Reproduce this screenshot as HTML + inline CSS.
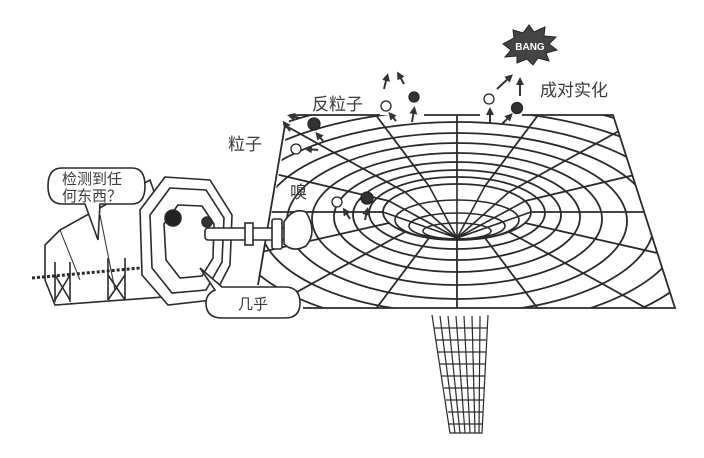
<!DOCTYPE html>
<html><head><meta charset="utf-8"><style>
html,body{margin:0;padding:0;background:#fff;}
svg{display:block}
text{font-family:"Liberation Sans","Noto Sans CJK SC",sans-serif;fill:#3a3a3a}
</style></head><body>
<svg width="704" height="458" viewBox="0 0 704 458" xmlns="http://www.w3.org/2000/svg">
<defs>
<clipPath id="sheet"><polygon points="290,115 613,115 675,308 303,308 258,285"/></clipPath>
<clipPath id="hole"><ellipse cx="457" cy="212" rx="74" ry="28"/></clipPath>
<marker id="ah" markerWidth="4" markerHeight="4" refX="2" refY="2" orient="auto"><path d="M0,0 L4,2 L0,4 z" fill="#333"/></marker>
</defs>
<g stroke="#2a2a2a" fill="none" stroke-width="1.8">
<g clip-path="url(#sheet)">
<ellipse cx="457" cy="213" rx="88" ry="36"/>
<ellipse cx="457" cy="215" rx="104" ry="45"/>
<ellipse cx="457" cy="217" rx="123" ry="55"/>
<ellipse cx="457" cy="219" rx="145" ry="66"/>
<ellipse cx="457" cy="221" rx="170" ry="78"/>
<ellipse cx="457" cy="223" rx="197" ry="90"/>
<ellipse cx="457" cy="225" rx="226" ry="103"/>
<ellipse cx="457" cy="227" rx="257" ry="117"/>
<ellipse cx="457" cy="229" rx="290" ry="132"/>
<line x1="531" y1="212" x2="900" y2="212"/>
<line x1="525" y1="223" x2="895" y2="307"/>
<line x1="509" y1="232" x2="790" y2="388"/>
<line x1="485" y1="238" x2="640" y2="445"/>
<line x1="457" y1="240" x2="457" y2="450"/>
<line x1="429" y1="238" x2="274" y2="445"/>
<line x1="405" y1="232" x2="124" y2="388"/>
<line x1="389" y1="223" x2="19" y2="307"/>
<line x1="383" y1="212" x2="14" y2="212"/>
<line x1="525" y1="201" x2="895" y2="113"/>
<line x1="509" y1="192" x2="790" y2="36"/>
<line x1="485" y1="186" x2="640" y2="-21"/>
<line x1="457" y1="184" x2="457" y2="-30"/>
<line x1="429" y1="186" x2="274" y2="-21"/>
<line x1="405" y1="192" x2="124" y2="36"/>
<line x1="389" y1="201" x2="19" y2="113"/>
</g>
<g clip-path="url(#hole)" stroke-width="1.6">
<ellipse cx="457" cy="220" rx="62" ry="20"/>
<ellipse cx="457" cy="226" rx="48" ry="13"/>
<ellipse cx="457" cy="231" rx="34" ry="8"/>
<line x1="457" y1="238" x2="457" y2="184"/>
<line x1="457" y1="238" x2="429" y2="186"/>
<line x1="457" y1="238" x2="485" y2="186"/>
<line x1="457" y1="238" x2="405" y2="192"/>
<line x1="457" y1="238" x2="509" y2="192"/>
<line x1="457" y1="238" x2="389" y2="201"/>
<line x1="457" y1="238" x2="525" y2="201"/>
<line x1="457" y1="238" x2="383" y2="212"/>
<line x1="457" y1="238" x2="531" y2="212"/>
</g>
<ellipse cx="457" cy="212" rx="74" ry="28"/>
<polyline points="290,115 380,115"/>
<polyline points="424,115 480,115"/>
<polyline points="522,115 613,115 675,308 303,308"/>
<polyline points="285,125 258,285"/>
<g stroke-width="1.2">
<path d="M432,315 L450,433 L482,433 L488,315"/>
<line x1="440" y1="316" x2="455" y2="433"/><line x1="448" y1="316" x2="460" y2="433"/>
<line x1="456" y1="316" x2="465" y2="433"/><line x1="464" y1="316" x2="470" y2="433"/>
<line x1="472" y1="316" x2="475" y2="433"/><line x1="480" y1="316" x2="479" y2="433"/>
<line x1="434" y1="328" x2="487" y2="328"/><line x1="436" y1="340" x2="486" y2="340"/>
<line x1="438" y1="352" x2="486" y2="352"/><line x1="440" y1="364" x2="485" y2="364"/>
<line x1="442" y1="376" x2="485" y2="376"/><line x1="444" y1="388" x2="484" y2="388"/>
<line x1="446" y1="400" x2="484" y2="400"/><line x1="448" y1="412" x2="483" y2="412"/>
<line x1="449" y1="424" x2="483" y2="424"/>
</g>
</g>
<g stroke="#222" stroke-width="1.3">
<circle cx="314" cy="124" r="6" fill="#333"/>
<circle cx="296" cy="149" r="5" fill="#fff"/>
<circle cx="386" cy="106" r="5" fill="#fff"/>
<circle cx="414" cy="97" r="5" fill="#333"/>
<circle cx="489" cy="99" r="5" fill="#fff"/>
<circle cx="517" cy="108" r="5.5" fill="#333"/>
<circle cx="337" cy="202" r="5" fill="#fff"/>
<circle cx="367" cy="198" r="6" fill="#333"/>
</g>
<g stroke="#333" stroke-width="2" marker-end="url(#ah)">
<line x1="323" y1="141" x2="318" y2="135"/><line x1="318" y1="150" x2="308" y2="149"/>
<line x1="300" y1="118" x2="291" y2="116"/><line x1="290" y1="131" x2="285" y2="124"/>
<line x1="396" y1="121" x2="391" y2="115"/><line x1="412" y1="122" x2="414" y2="110"/>
<line x1="384" y1="89" x2="387" y2="77"/><line x1="404" y1="84" x2="399" y2="75"/>
<line x1="490" y1="124" x2="490" y2="111"/><line x1="502" y1="124" x2="510" y2="116"/>
<line x1="497" y1="89" x2="510" y2="77"/><line x1="520" y1="96" x2="520" y2="81"/>
<line x1="350" y1="219" x2="345" y2="211"/><line x1="365" y1="220" x2="367" y2="211"/>
</g>
<polygon points="503,44 514,38 513,30 523,33 529,25 534,32 545,27 544,36 556,37 549,44 557,50 546,53 549,61 538,58 533,65 527,59 517,63 517,56 505,57 511,50" fill="#444" stroke="#222"/>
<text x="530" y="50" font-size="10" font-weight="bold" text-anchor="middle" style="fill:#fff">BANG</text>
<text x="312" y="110" font-size="17">反粒子</text>
<text x="228" y="150" font-size="17">粒子</text>
<text x="290" y="198" font-size="17">嗅</text>
<text x="540" y="96" font-size="17">成对实化</text>
<g stroke="#2a2a2a" stroke-width="1.6" fill="#fff">
<path d="M45,245 L60,230 L150,180 L190,295 L55,305 L45,280 z"/>
<polygon points="165,177 210,180 232,215 230,265 212,300 168,305 142,275 140,210"/>
<polygon points="170,188 206,190 224,218 222,262 206,290 172,293 152,268 150,215"/>
<polygon points="178,205 202,206 214,224 213,258 202,276 180,278 166,260 164,224"/>
<circle cx="173" cy="218" r="8" fill="#222"/>
<circle cx="207" cy="222" r="5" fill="#333"/>
<rect x="205" y="228" width="85" height="12" rx="3"/>
<rect x="245" y="223" width="8" height="22"/>
<rect x="272" y="219" width="10" height="30" rx="2"/>
<path d="M284,222 Q293,207 306,212 Q318,232 306,246 Q293,253 284,244 z"/>
<path d="M55,262 L55,302 M70,262 L70,302 M108,258 L108,300 M125,258 L125,300" fill="none"/>
<path d="M55,275 L70,300 M70,275 L55,300 M108,275 L125,300 M125,275 L108,300" fill="none"/>
<path d="M32,278 L140,268" fill="none" stroke-dasharray="3,2" stroke-width="3"/>
<path d="M60,230 L80,280 M100,215 L115,290" fill="none" stroke-width="1"/>
</g>
<g stroke="#2a2a2a" stroke-width="1.6" fill="#fff">
<path d="M62,168 L132,168 Q145,168 145,186 Q145,204 132,204 L100,204 L98,240 L85,204 L62,204 Q48,204 48,186 Q48,168 62,168 z"/>
<path d="M222,287 L285,287 Q300,287 300,303 Q300,318 285,318 L222,318 Q206,318 206,303 Q206,294 215,290 L200,268 z"/>
</g>
<text x="62" y="184" font-size="15">检测到任</text>
<text x="62" y="201" font-size="15">何东西？</text>
<text x="238" y="309" font-size="15">几乎</text>
</svg>
</body></html>
